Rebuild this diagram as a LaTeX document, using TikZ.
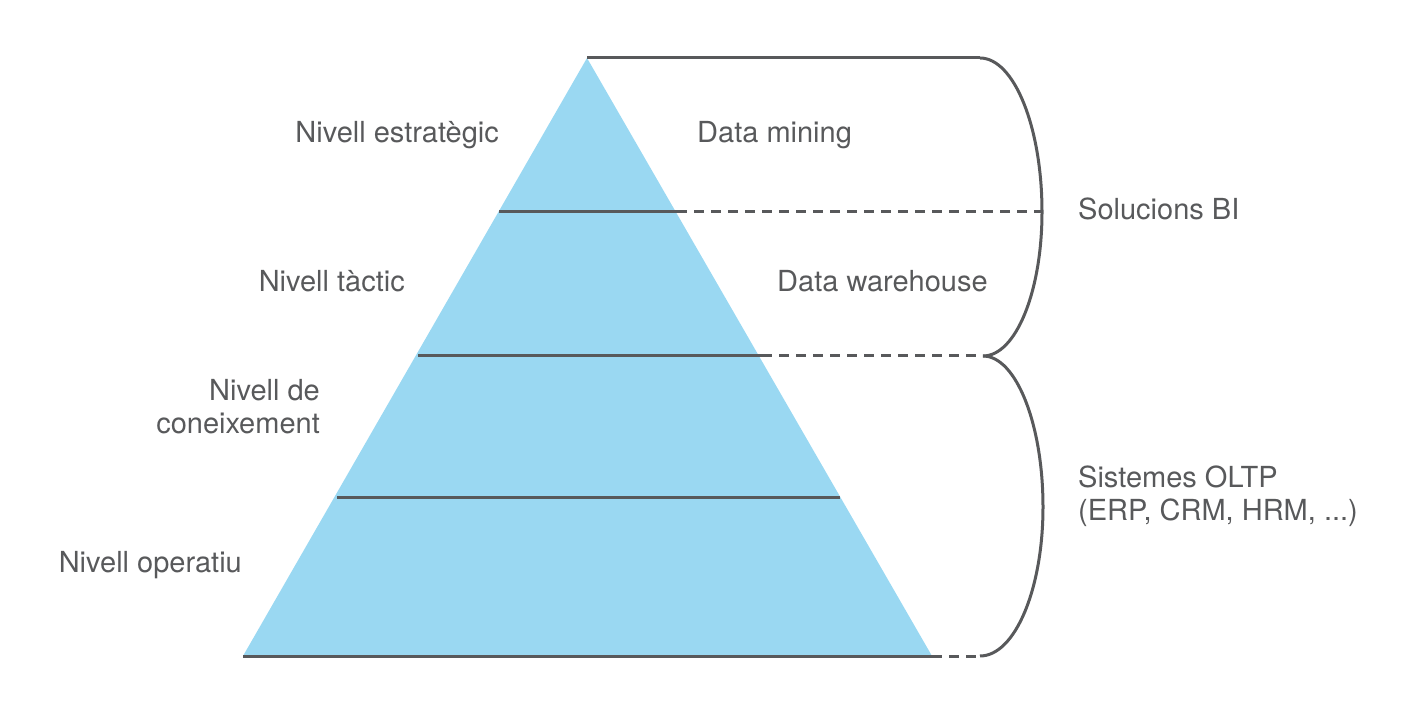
\documentclass[tikz,border=0pt]{standalone}
\usepackage{fontspec}
\setmainfont{TeX Gyre Heros}
\usepackage{tikz}

\definecolor{piramide}{RGB}{154,216,242}
\definecolor{gris}{RGB}{88,89,91}

\begin{document}
\begin{tikzpicture}[x=1pt, y=-1pt, font=\fontsize{29}{33}\selectfont,
    nivell/.style={draw=gris, line width=3pt},
    ratlla/.style={draw=gris, line width=3pt, dash pattern=on 10pt off 7pt},
    clau/.style={draw=gris, line width=3pt},
    etiqueta/.style={text=gris, inner sep=0pt}]
    \useasboundingbox (0,0) rectangle (1417,708);

    % Points {apex, levels, brace}
    \coordinate (apex) at (587,58);
    \coordinate (base1) at (243,656);
    \coordinate (base2) at (932,656);
    \coordinate (e1) at (499,212);   \coordinate (d1) at (677,212);
    \coordinate (e2) at (418,356);   \coordinate (d2) at (762,356);
    \coordinate (e3) at (337,497);   \coordinate (d3) at (840,497);
    \coordinate (c0) at (980,58);
    \coordinate (c1) at (1042,212);
    \coordinate (c2) at (983,356);
    \coordinate (c3) at (1043,507);
    \coordinate (c4) at (980,656);

    % Pyramid
    \fill [piramide] (apex) -- (base1) -- (base2) -- cycle;

    % Levels
    \path [nivell] (apex)  -- (c0);
    \path [nivell] (e1)    -- (d1);
    \path [nivell] (e2)    -- (d2);
    \path [nivell] (e3)    -- (d3);
    \path [nivell] (base1) -- (base2);
    \path [ratlla] (d1)    -- (c1);
    \path [ratlla] (d2)    -- (c2);
    \path [ratlla] (base2) -- (c4);

    % Braces
    \path [clau] (c0) .. controls (1014,58) and (1042,127) .. (c1)
                      .. controls (1042,291) and (1016,356) .. (c2);
    \path [clau] (c2) .. controls (1016,356) and (1043,424) .. (c3)
                      .. controls (1043,589) and (1015,656) .. (c4);

    % Labels
    \node [etiqueta, anchor=base east]              (nivE) at (499,143) {Nivell estratègic};
    \node [etiqueta, anchor=base east]              (nivT) at (405,292) {Nivell tàctic};
    \node [etiqueta, anchor=base east, align=right] (nivC) at (320,434) {Nivell de\\coneixement};
    \node [etiqueta, anchor=base east]              (nivO) at (242,572) {Nivell operatiu};
    \node [etiqueta, anchor=base west]              (dm)   at (697,143) {Data mining};
    \node [etiqueta, anchor=base west]              (dw)   at (777,292) {Data warehouse};
    \node [etiqueta, anchor=base west]              (bi)   at (1078,220) {Solucions BI};
    \node [etiqueta, anchor=base west, align=left]  (oltp) at (1078,520) {Sistemes OLTP\\(ERP, CRM, HRM, ...)};

\end{tikzpicture}
\end{document}
